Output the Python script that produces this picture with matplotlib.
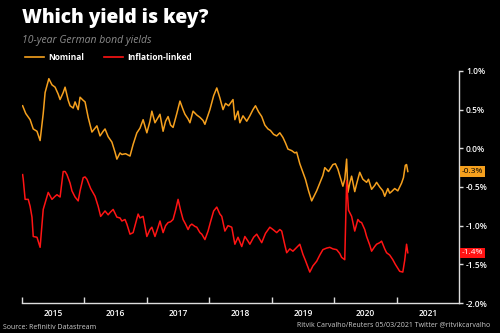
import matplotlib
matplotlib.use("Agg")
import matplotlib.pyplot as plt

# 10-year German bond yields (%), time as fractional year
nominal_t = [2015.01, 2015.06, 2015.13, 2015.18, 2015.24, 2015.29, 2015.34, 2015.37, 2015.43, 2015.48,
             2015.53, 2015.58, 2015.61, 2015.66, 2015.69, 2015.74, 2015.77, 2015.82, 2015.85, 2015.90,
             2015.93, 2015.98, 2016.01, 2016.06, 2016.12, 2016.17, 2016.20, 2016.25, 2016.30, 2016.33,
             2016.38, 2016.44, 2016.49, 2016.52, 2016.57, 2016.60, 2016.66, 2016.73, 2016.78, 2016.84,
             2016.89, 2016.94, 2017.00, 2017.05, 2017.08, 2017.13, 2017.18, 2017.21, 2017.26, 2017.30,
             2017.34, 2017.38, 2017.42, 2017.48, 2017.53, 2017.58, 2017.61, 2017.66, 2017.69, 2017.74,
             2017.80, 2017.85, 2017.90, 2017.93, 2018.01, 2018.07, 2018.12, 2018.17, 2018.22, 2018.26,
             2018.31, 2018.38, 2018.41, 2018.46, 2018.49, 2018.54, 2018.60, 2018.65, 2018.70, 2018.74,
             2018.79, 2018.84, 2018.89, 2018.94, 2018.98, 2019.03, 2019.08, 2019.13, 2019.18, 2019.22,
             2019.26, 2019.32, 2019.37, 2019.40, 2019.45, 2019.50, 2019.54, 2019.59, 2019.64, 2019.69,
             2019.72, 2019.77, 2019.82, 2019.85, 2019.91, 2019.98, 2020.02, 2020.06, 2020.10, 2020.14,
             2020.17, 2020.20, 2020.22, 2020.25, 2020.28, 2020.33, 2020.36, 2020.41, 2020.46, 2020.52,
             2020.55, 2020.60, 2020.65, 2020.68, 2020.73, 2020.78, 2020.81, 2020.86, 2020.89, 2020.92,
             2020.97, 2021.02, 2021.05, 2021.08, 2021.11, 2021.14, 2021.16, 2021.18]
nominal = [0.55, 0.45, 0.37, 0.25, 0.22, 0.10, 0.45, 0.72, 0.90, 0.82,
           0.79, 0.70, 0.63, 0.72, 0.79, 0.62, 0.55, 0.52, 0.60, 0.50,
           0.66, 0.62, 0.60, 0.40, 0.21, 0.26, 0.29, 0.16, 0.22, 0.25,
           0.15, 0.08, -0.05, -0.14, -0.06, -0.08, -0.07, -0.10, 0.05, 0.20,
           0.26, 0.37, 0.20, 0.35, 0.48, 0.33, 0.40, 0.44, 0.22, 0.35,
           0.41, 0.30, 0.27, 0.45, 0.61, 0.50, 0.44, 0.38, 0.33, 0.48,
           0.43, 0.40, 0.36, 0.31, 0.50, 0.68, 0.78, 0.65, 0.50, 0.58,
           0.55, 0.63, 0.37, 0.48, 0.33, 0.42, 0.35, 0.42, 0.50, 0.55,
           0.47, 0.41, 0.30, 0.25, 0.23, 0.18, 0.16, 0.20, 0.14, 0.07,
           -0.01, -0.03, -0.06, -0.05, -0.20, -0.31, -0.40, -0.55, -0.68, -0.60,
           -0.55, -0.45, -0.35, -0.25, -0.30, -0.21, -0.20, -0.27, -0.38, -0.49,
           -0.40, -0.14, -0.57, -0.45, -0.36, -0.56, -0.46, -0.31, -0.40, -0.44,
           -0.40, -0.53, -0.48, -0.44, -0.50, -0.55, -0.62, -0.52, -0.58, -0.56,
           -0.52, -0.55, -0.50, -0.45, -0.38, -0.22, -0.21, -0.30]

real_t = [2015.01, 2015.02, 2015.05, 2015.10, 2015.13, 2015.16, 2015.18, 2015.24, 2015.29, 2015.34,
          2015.42, 2015.48, 2015.53, 2015.56, 2015.61, 2015.66, 2015.69, 2015.72, 2015.77, 2015.80,
          2015.85, 2015.90, 2015.93, 2015.98, 2016.01, 2016.04, 2016.10, 2016.17, 2016.22, 2016.26,
          2016.33, 2016.38, 2016.41, 2016.46, 2016.52, 2016.57, 2016.60, 2016.65, 2016.68, 2016.73,
          2016.78, 2016.81, 2016.86, 2016.89, 2016.94, 2017.00, 2017.05, 2017.08, 2017.13, 2017.18,
          2017.21, 2017.26, 2017.30, 2017.34, 2017.38, 2017.42, 2017.46, 2017.50, 2017.54, 2017.58,
          2017.62, 2017.66, 2017.69, 2017.72, 2017.77, 2017.80, 2017.85, 2017.88, 2017.93, 2017.98,
          2018.02, 2018.07, 2018.12, 2018.17, 2018.20, 2018.25, 2018.30, 2018.36, 2018.41, 2018.46,
          2018.52, 2018.57, 2018.62, 2018.65, 2018.71, 2018.76, 2018.81, 2018.84, 2018.90, 2018.97,
          2019.02, 2019.08, 2019.13, 2019.16, 2019.21, 2019.24, 2019.29, 2019.34, 2019.40, 2019.45,
          2019.50, 2019.54, 2019.61, 2019.66, 2019.72, 2019.77, 2019.82, 2019.88, 2019.93, 2019.98,
          2020.04, 2020.09, 2020.12, 2020.17, 2020.20, 2020.23, 2020.28, 2020.33, 2020.38, 2020.41,
          2020.44, 2020.49, 2020.52, 2020.57, 2020.60, 2020.65, 2020.68, 2020.73, 2020.76, 2020.81,
          2020.84, 2020.89, 2020.94, 2020.98, 2021.02, 2021.05, 2021.10, 2021.13, 2021.16, 2021.18]
real = [-0.34, -0.40, -0.66, -0.66, -0.75, -0.89, -1.14, -1.15, -1.28, -0.79,
        -0.57, -0.66, -0.62, -0.60, -0.63, -0.30, -0.30, -0.34, -0.45, -0.55,
        -0.63, -0.68, -0.55, -0.38, -0.37, -0.40, -0.52, -0.62, -0.75, -0.88,
        -0.81, -0.86, -0.83, -0.79, -0.89, -0.90, -0.94, -0.92, -0.98, -1.11,
        -1.09, -1.00, -0.85, -0.90, -0.88, -1.14, -1.05, -1.02, -1.14, -1.02,
        -0.94, -1.09, -1.00, -0.96, -0.95, -0.92, -0.80, -0.66, -0.80, -0.92,
        -0.98, -1.05, -1.00, -0.98, -1.01, -1.02, -1.09, -1.11, -1.18, -1.07,
        -0.95, -0.81, -0.76, -0.85, -0.88, -1.07, -1.00, -1.02, -1.24, -1.15,
        -1.27, -1.14, -1.20, -1.24, -1.15, -1.11, -1.18, -1.22, -1.10, -1.02,
        -1.05, -1.09, -1.05, -1.07, -1.25, -1.35, -1.30, -1.33, -1.28, -1.24,
        -1.37, -1.45, -1.60, -1.52, -1.46, -1.38, -1.31, -1.29, -1.28, -1.30,
        -1.31, -1.36, -1.41, -1.44, -0.42, -0.80, -0.88, -1.07, -0.92, -0.95,
        -0.96, -1.05, -1.14, -1.25, -1.33, -1.27, -1.24, -1.22, -1.20, -1.30,
        -1.35, -1.38, -1.44, -1.50, -1.55, -1.59, -1.60, -1.45, -1.24, -1.35]

years = [2015, 2016, 2017, 2018, 2019, 2020, 2021]
y_ticks = [1.0, 0.5, 0.0, -0.5, -1.0, -1.5, -2.0]

orange = '#f5a01e'
red = '#ff1414'
plt.rcParams['font.family'] = ['Open Sans', 'DejaVu Sans']

fig = plt.figure(figsize=(5, 3.33), dpi=100, facecolor='black')
ax = fig.add_axes([0.044, 0.09, 0.874, 0.697], facecolor='black')

ax.plot(nominal_t, nominal, color=orange, lw=1.1)
ax.plot(real_t, real, color=red, lw=1.1)

ax.set_xlim(2015, 2022)
ax.set_ylim(-2.0, 1.0)

for s in ['top', 'left']:
    ax.spines[s].set_visible(False)
for s in ['bottom', 'right']:
    ax.spines[s].set_color('#dddddd')
    ax.spines[s].set_linewidth(1.0)

ax.yaxis.tick_right()
ax.set_yticks(y_ticks)
ax.set_yticklabels(['%.1f%%' % v for v in y_ticks], fontweight='semibold')
ax.tick_params(axis='y', colors='#dddddd', labelcolor='white', labelsize=6,
               length=3, width=1, pad=2)

ax.set_xticks(years)
ax.set_xticklabels([])
ax.set_xticks([y + 0.5 for y in years], minor=True)
ax.set_xticklabels([str(y) for y in years], minor=True, fontweight='semibold')
ax.tick_params(axis='x', which='major', direction='in', colors='#dddddd', length=4, width=1)
ax.tick_params(axis='x', which='minor', length=0, labelcolor='white', labelsize=6, pad=4)

# end-value labels
ax.text(2022.05, nominal[-1], '%.1f%%' % nominal[-1], color='black', fontsize=6,
        va='center', ha='left', clip_on=False,
        bbox=dict(boxstyle='square,pad=0.2', fc=orange, ec='none'))
ax.text(2022.05, real[-1], '%.1f%%' % real[-1], color='white', fontsize=6,
        va='center', ha='left', clip_on=False,
        bbox=dict(boxstyle='square,pad=0.2', fc=red, ec='none'))

# titles and legend
fig.text(0.044, 0.945, 'Which yield is key?', color='white', fontsize=13.8,
         fontweight='heavy', va='center', ha='left')
fig.text(0.044, 0.878, '10-year German bond yields', color='#8c8c8c', fontsize=7.5,
         style='italic', va='center', ha='left')
fig.lines.append(plt.Line2D([0.05, 0.088], [0.828, 0.828], color=orange, lw=1.2,
                            transform=fig.transFigure))
fig.text(0.096, 0.828, 'Nominal', color='white', fontsize=6, fontweight='bold', va='center')
fig.lines.append(plt.Line2D([0.208, 0.246], [0.828, 0.828], color=red, lw=1.2,
                            transform=fig.transFigure))
fig.text(0.254, 0.828, 'Inflation-linked', color='white', fontsize=6, fontweight='bold', va='center')

# footer
fig.text(0.006, 0.018, 'Source: Refinitiv Datastream', color='#cccccc', fontsize=5, va='center')
fig.text(0.98, 0.025, 'Ritvik Carvalho/Reuters 05/03/2021 Twitter @ritvikcarvalho',
         color='#cccccc', fontsize=5, va='center', ha='right')

plt.savefig('out.png', dpi=100, facecolor='black')
